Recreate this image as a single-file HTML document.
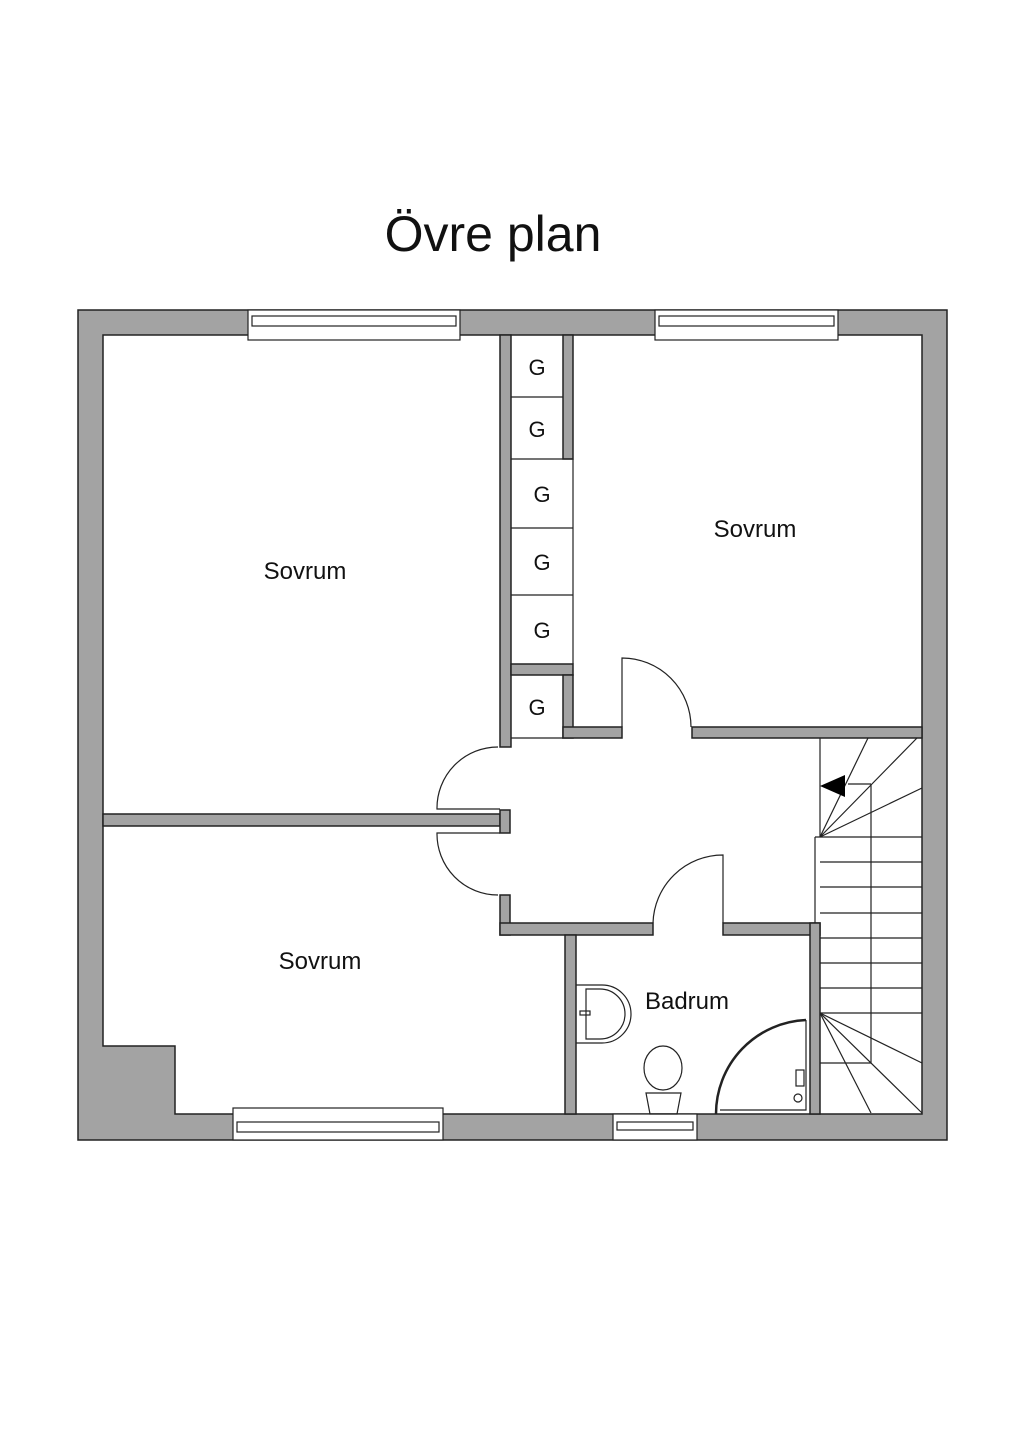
<!DOCTYPE html>
<html><head><meta charset="utf-8"><style>
html,body{margin:0;padding:0;background:#fff;}
svg{display:block;}
text{font-family:"Liberation Sans",sans-serif;fill:#111;}
</style></head><body>
<svg width="1024" height="1448" viewBox="0 0 1024 1448" xmlns="http://www.w3.org/2000/svg">
<text x="493" y="251" font-size="50" text-anchor="middle">Övre plan</text>
<g fill="#a3a3a3" stroke="#222" stroke-width="1.5">
<path fill-rule="evenodd" d="M78,310 H947 V1140 H78 Z M103,335 H922 V1114 H175 V1046 H103 Z"/>
<rect x="500" y="335" width="11" height="412"/>
<rect x="563" y="335" width="10" height="124"/>
<rect x="511" y="664" width="62" height="11"/>
<rect x="563" y="675" width="10" height="63"/>
<rect x="563" y="727" width="59" height="11"/>
<rect x="692" y="727" width="230" height="11"/>
<rect x="103" y="814" width="397" height="12"/>
<rect x="500" y="810" width="10" height="23"/>
<rect x="500" y="895" width="10" height="40"/>
<rect x="500" y="923" width="153" height="12"/>
<rect x="723" y="923" width="97" height="12"/>
<rect x="565" y="935" width="11" height="179"/>
<rect x="810" y="923" width="10" height="191"/>
</g>
<g fill="#fff" stroke="#222" stroke-width="1.2">
<rect x="248" y="310" width="212" height="30"/>
<rect x="252" y="316" width="204" height="10"/>
<rect x="655" y="310" width="183" height="30"/>
<rect x="659" y="316" width="175" height="10"/>
<rect x="233" y="1108" width="210" height="32"/>
<rect x="237" y="1122" width="202" height="10"/>
<rect x="613" y="1114" width="84" height="26"/>
<rect x="617" y="1122" width="76" height="8"/>
</g>
<g fill="none" stroke="#222" stroke-width="1.2">
<line x1="511" y1="397" x2="563" y2="397"/>
<line x1="511" y1="459" x2="573" y2="459"/>
<line x1="511" y1="528" x2="573" y2="528"/>
<line x1="511" y1="595" x2="573" y2="595"/>
<line x1="573" y1="459" x2="573" y2="664"/>
<line x1="511" y1="738" x2="563" y2="738"/>
<path d="M622,727 V658 A69,69 0 0 1 691,727"/>
<path d="M500,809 H437 A61,61 0 0 1 498,747"/>
<path d="M500,833 H437 A61,61 0 0 0 498,895"/>
<path d="M723,923 V855 A70,70 0 0 0 653,923"/>
<line x1="820" y1="738" x2="820" y2="837"/>
<line x1="815" y1="837" x2="815" y2="923"/>
<line x1="871" y1="784" x2="871" y2="1063"/>
<line x1="848" y1="784" x2="871" y2="784"/>
<line x1="820" y1="837" x2="868" y2="738"/>
<line x1="820" y1="837" x2="917" y2="738"/>
<line x1="820" y1="837" x2="922" y2="788"/>
<line x1="815" y1="837" x2="922" y2="837"/>
<line x1="820" y1="862" x2="922" y2="862"/>
<line x1="820" y1="887" x2="922" y2="887"/>
<line x1="820" y1="913" x2="922" y2="913"/>
<line x1="820" y1="938" x2="922" y2="938"/>
<line x1="820" y1="963" x2="922" y2="963"/>
<line x1="820" y1="988" x2="922" y2="988"/>
<line x1="820" y1="1013" x2="922" y2="1013"/>
<line x1="820" y1="1063" x2="871" y2="1063"/>
<line x1="820" y1="1013" x2="922" y2="1063"/>
<line x1="820" y1="1013" x2="922" y2="1113"/>
<line x1="820" y1="1013" x2="871" y2="1113"/>
<path d="M576,985 H602 A29,29 0 0 1 602,1043 H576"/>
<path d="M586,989 H600 A24,24 0 0 1 600,1039 H586 Z"/>
<rect x="580" y="1011" width="10" height="4"/>
<ellipse cx="663" cy="1068" rx="19" ry="22"/>
<path d="M646,1093 H681 L677,1114 H650 Z"/>
<path d="M716,1114 A94,94 0 0 1 806,1020" stroke-width="2.5"/>
<path d="M720,1110 H806 V1020"/>
<circle cx="798" cy="1098" r="4"/>
<rect x="796" y="1070" width="8" height="16"/>
</g>
<path d="M820,786 L845,775 L845,797 Z" fill="#000"/>
<g font-size="24" text-anchor="middle">
<text x="305" y="579">Sovrum</text>
<text x="755" y="537">Sovrum</text>
<text x="320" y="969">Sovrum</text>
<text x="687" y="1009">Badrum</text>
</g>
<g font-size="22" text-anchor="middle">
<text x="537" y="375">G</text>
<text x="537" y="437">G</text>
<text x="542" y="502">G</text>
<text x="542" y="570">G</text>
<text x="542" y="638">G</text>
<text x="537" y="715">G</text>
</g>
</svg>
</body></html>
